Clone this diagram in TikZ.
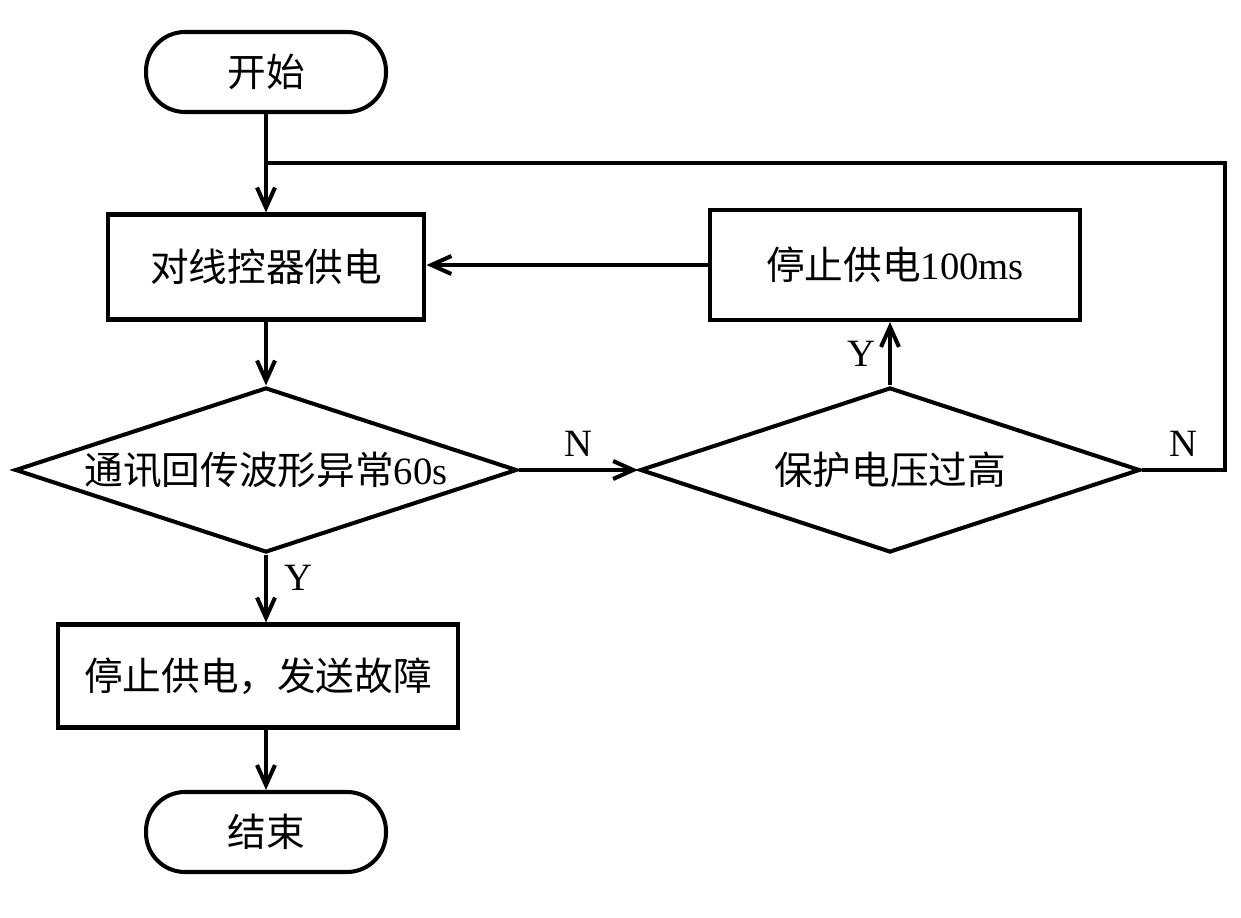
\documentclass[tikz,border=0pt]{standalone}
\usepackage{fontspec}
\setmainfont{Liberation Serif}
\newfontfamily\cjk{Noto Sans CJK SC}
\usetikzlibrary{shapes.geometric,arrows.meta}

\begin{document}
\begin{tikzpicture} [x=0.02cm,y=-0.02cm,line width=2.3pt,
  font=\fontsize{22}{26}\selectfont,
  box/.style={draw,rectangle,inner sep=0pt},
  term/.style={draw,rectangle,rounded corners=0.78cm,inner sep=0pt,minimum width=4.8cm,minimum height=1.6cm},
  test/.style={draw,diamond,aspect=3,inner sep=0pt,minimum height=3.3cm},
  arr/.style={-{Straight Barb[length=4mm,width=3.6mm]}}]
\useasboundingbox (0,0) rectangle (1241,918);
% main column
\node [term] (start) at (266,72) {\cjk 开始};
\node [box,minimum width=6.34cm,minimum height=2.1cm] (power) at (266,267) {\cjk 对线控器供电};
\node [test,minimum width=10.04cm] (check) at (266,470) {{\cjk 通讯回传波形异常}60s};
\node [box,minimum width=8.02cm,minimum height=2.06cm] (fault) at (258,676) {\cjk 停止供电，发送故障};
\node [term] (end) at (266,832) {\cjk 结束};
% right branch
\node [test,minimum width=10cm] (volt) at (890,470) {\cjk 保护电压过高};
\node [box,minimum width=7.4cm,minimum height=2.2cm] (pause) at (895,265) {{\cjk 停止供电}100ms};
\coordinate (loop) at (266,163);
\coordinate (corner) at (1225,470);
% connectors
\draw (start) -- (loop);
\draw [arr] (loop) -- (power);
\draw [arr] (power) -- (check);
\draw [arr] (check.south) -- (check.south |- fault.north) node [pos=0.35,right=6pt] {Y};
\draw [arr] (end.north |- fault.south) -- (end.north);
\draw [arr] (check.east) -- (volt.west) node [midway,above=3pt] {N};
\draw [arr] (volt.north) -- (volt.north |- pause.south) node [midway,left=4pt] {Y};
\draw [arr] (pause.west) -- (pause.west -| power.east);
\draw (volt.east) -- (corner) node [midway,above=3pt] {N} |- (loop);
\end{tikzpicture}
\end{document}
